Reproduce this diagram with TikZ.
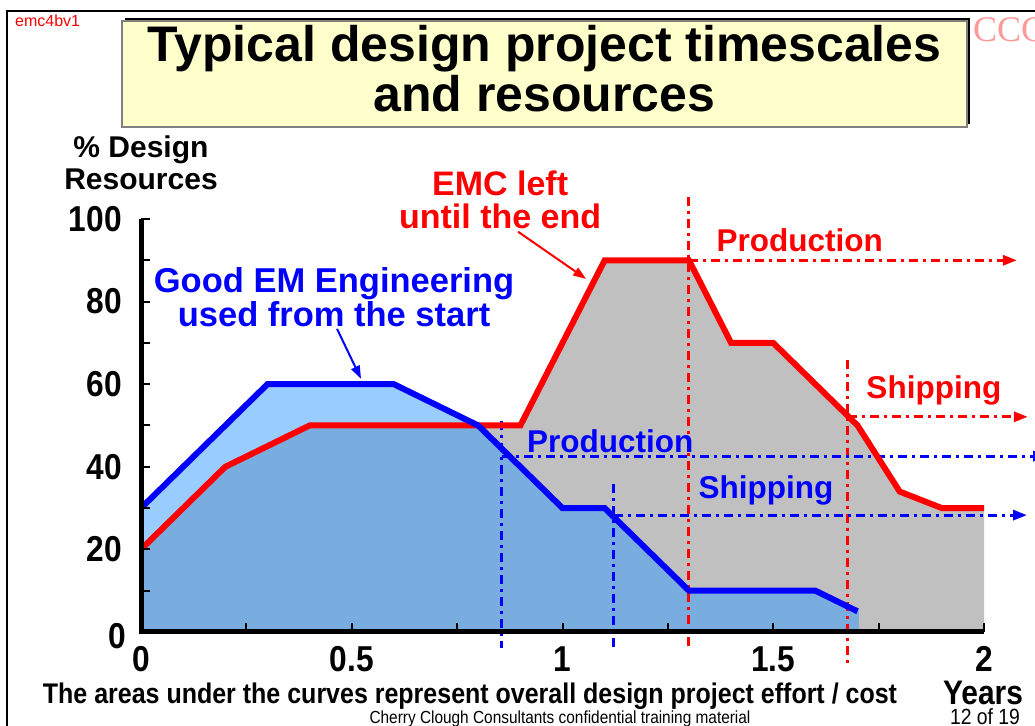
\documentclass[tikz,border=0pt]{standalone}
\usepackage{fontspec}
\setmainfont{Liberation Sans}
\newfontfamily\narrowfont[FakeStretch=0.88]{Liberation Sans}
\newfontfamily\logofont{Liberation Serif}
\usetikzlibrary{arrows.meta,shadows}
\definecolor{paleyellow}{HTML}{FFFFCC}
\definecolor{lightfill}{HTML}{99CCFF}
\definecolor{midfill}{HTML}{79ACDF}
\definecolor{greyfill}{HTML}{C0C0C0}
\begin{document}
\begin{tikzpicture}[x=1pt,y=1pt,
    titlebox/.style={draw=gray,line width=1.5pt,fill=paleyellow,minimum width=845,minimum height=106,inner sep=0pt,
        drop shadow={shadow xshift=3pt,shadow yshift=3pt,fill=black,opacity=1}},
    titletext/.style={align=center,inner sep=0pt,font=\bfseries\fontsize{50}{50}\selectfont},
    lbl/.style={align=center,inner sep=0pt,font=\bfseries\fontsize{34}{33}\selectfont},
    phase/.style={inner sep=0pt,font=\bfseries\fontsize{31.5}{32}\selectfont},
    ticklbl/.style={inner sep=0pt,font=\narrowfont\bfseries\fontsize{36}{36}\selectfont},
    curve/.style={line width=6pt},
    guide/.style={line width=3pt,dash pattern=on 9pt off 5pt on 3pt off 5pt},
    pointer/.style={line width=2pt,-{Triangle[length=13pt,width=9pt]}},
    tip/.style={-{Triangle[length=14pt,width=10pt]}}]
\useasboundingbox (0,0) rectangle (1035,725);
\fill[white] (0,0) rectangle (1035,725);
\draw[line width=2.5pt] (7,-5) -- (7,714) -- (1040,714);
\node[anchor=base west,inner sep=0pt,red,font=\fontsize{16}{16}\selectfont] (ref) at (15,698) {emc4bv1};
\node[anchor=base west,inner sep=0pt,red!40,font=\logofont\fontsize{36}{36}\selectfont] (logo) at (973,683) {CCC};
\node[titlebox] (tbox) at (544.5,651) {};
\node[titletext] (title) at (544.5,656) {Typical design project timescales\\and resources};

\begin{scope}[shift={(141,93)},x=421.5pt,y=4.13pt]
\fill[greyfill] (0,0) -- (0,20) -- (0.2,40) -- (0.4,50) -- (0.9,50) -- (1.1,90) -- (1.3,90) -- (1.4,70) -- (1.5,70) -- (1.7,50) -- (1.8,34) -- (1.9,30) -- (2,30) -- (2,0) -- cycle;
\fill[lightfill] (0,0) -- (0,30) -- (0.3,60) -- (0.6,60) -- (0.8,50) -- (1,30) -- (1.1,30) -- (1.3,10) -- (1.6,10) -- (1.703,5) -- (1.703,0) -- cycle;
\fill[midfill] (0,0) -- (0,20) -- (0.2,40) -- (0.4,50) -- (0.8,50) -- (1,30) -- (1.1,30) -- (1.3,10) -- (1.6,10) -- (1.703,5) -- (1.703,0) -- cycle;

\draw[guide,red] (1.3,105.3) -- (1.3,-4.4);
\draw[guide,red] (1.677,65.9) -- (1.677,-8);
\draw[guide,blue] (0.856,51.1) -- (0.856,-3.9);
\draw[guide,blue] (1.122,35.8) -- (1.122,-4.4);
\draw[guide,red,tip] (1.3,90) -- (2.078,90);
\draw[guide,red,tip] (1.677,52.1) -- (2.104,52.1);
\draw[guide,blue,tip] (0.856,42.6) -- (2.15,42.6);
\draw[guide,blue,tip] (1.122,28.3) -- (2.102,28.3);

\draw[curve,red] (0,20) -- (0.2,40) -- (0.4,50) -- (0.9,50) -- (1.1,90) -- (1.3,90) -- (1.4,70) -- (1.5,70) -- (1.7,50) -- (1.8,34) -- (1.9,30) -- (2,30);
\draw[curve,blue] (0,30) -- (0.3,60) -- (0.6,60) -- (0.8,50) -- (1,30) -- (1.1,30) -- (1.3,10) -- (1.6,10) -- (1.7,5);

\draw[line width=5pt] (0,100) -- (0,0) -- (2,0);
\foreach \y in {10,20,...,100}
    \draw[line width=2pt] (0,\y) -- (0.022,\y);
\foreach \x in {0.25,0.5,...,2}
    \draw[line width=2pt] (\x,0) -- (\x,2.2);
\foreach \y in {20,40,...,100}
    \node[ticklbl,anchor=east] (ylab\y) at (-0.045,\y) {\y};
\node[ticklbl,anchor=east] (ylab0) at (-0.036,-1) {0};
\foreach \x [count=\i] in {0,0.5,1,1.5,2}
    \node[ticklbl] (xlab\i) at (\x,-6.5) {\x};

\node[inner sep=0pt,align=center,font=\bfseries\fontsize{30}{32}\selectfont] (yname) at (0,113.5) {\% Design\\Resources};
\node[lbl,red] (emc) at (0.852,104.7) {EMC left\\until the end};
\node[lbl,blue,font=\bfseries\fontsize{34.5}{34}\selectfont] (good) at (0.458,81.1) {Good EM Engineering\\used from the start};
\node[phase,red] (prodR) at (1.563,94.9) {Production};
\node[phase,red] (shipR) at (1.881,58.6) {Shipping};
\node[phase,blue] (prodB) at (1.113,46.2) {Production};
\node[phase,blue] (shipB) at (1.483,34.4) {Shipping};

\coordinate (emctip) at (1.056,85.5);
\coordinate (goodtip) at (0.522,61.3);
\draw[pointer,red] ([xshift=18pt,yshift=-3pt]emc.south) -- (emctip);
\draw[pointer,blue] ([xshift=3pt,yshift=-2pt]good.south) -- (goodtip);
\end{scope}

\node[anchor=base,inner sep=0pt,font=\narrowfont\bfseries\fontsize{28.4}{30}\selectfont] (note) at (470,22) {The areas under the curves represent overall design project effort / cost};
\node[anchor=base,inner sep=0pt,font=\narrowfont\bfseries\fontsize{34}{34}\selectfont] (years) at (983,21) {Years};
\node[anchor=base,inner sep=0pt,font=\narrowfont\fontsize{17.5}{18}\selectfont] (foot) at (560,2) {Cherry Clough Consultants confidential training material};
\node[anchor=base,inner sep=0pt,font=\narrowfont\fontsize{22}{22}\selectfont] (page) at (985,1) {12 of 19};
\end{tikzpicture}
\end{document}
